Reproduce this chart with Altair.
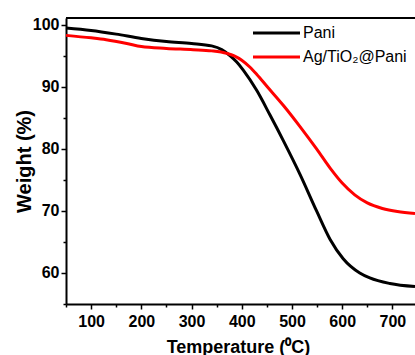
import altair as alt
import pandas as pd

# TGA curves: temperature (°C) vs residual weight (%)
pani_temp = [50, 100, 150, 200, 250, 300, 340, 360, 377, 390, 403, 430, 456, 483,
             516, 549, 576, 602, 635, 655, 695, 745]
pani_weight = [99.5, 99.1, 98.5, 97.8, 97.3, 97.0, 96.6, 96.0, 95.0, 94.0, 92.7, 89.4,
               85.5, 81.3, 75.9, 70.0, 65.4, 62.3, 60.0, 59.2, 58.3, 57.8]

comp_temp = [50, 100, 130, 171, 200, 250, 303, 340, 370, 385, 400, 416, 430, 450,
             483, 516, 549, 576, 600, 625, 650, 680, 710, 745]
comp_weight = [98.3, 97.9, 97.6, 97.0, 96.5, 96.2, 96.0, 95.8, 95.4, 95.0, 94.3, 93.2,
               92.0, 90.1, 87.0, 83.6, 80.0, 76.9, 74.5, 72.6, 71.3, 70.4, 69.9, 69.6]

series_names = ["Pani", "Ag/TiO\u2082@Pani"]
series_colors = ["#000000", "#ff0000"]

x_major = [100, 200, 300, 400, 500, 600, 700]
x_minor = [50, 150, 250, 350, 450, 550, 650]
y_major = [60, 70, 80, 90, 100]
y_minor = [55, 65, 75, 85, 95]

df = pd.concat([
    pd.DataFrame({"T": pani_temp, "W": pani_weight, "s": series_names[0], "o": range(len(pani_temp))}),
    pd.DataFrame({"T": comp_temp, "W": comp_weight, "s": series_names[1], "o": range(len(comp_temp))}),
])

W, H = 349, 286
FONT = "Liberation Sans"
xs = alt.Scale(domain=[50, 745], nice=False, zero=False)
ys = alt.Scale(domain=[55, 101.1], nice=False, zero=False)

lines = alt.Chart(df).mark_line(strokeWidth=3, interpolate="monotone").encode(
    x=alt.X("T:Q", scale=xs, axis=alt.Axis(
        values=x_major, tickSize=5, labelPadding=4, title="Temperature (\u2070C)",
        titleX=172, titleY=48, titleBaseline="alphabetic", titleFontSize=18)),
    y=alt.Y("W:Q", scale=ys, axis=alt.Axis(
        values=y_major, tickSize=5, labelPadding=2, title="Weight (%)",
        titleX=-36, titleY=H / 2, titleAngle=-90, titleBaseline="alphabetic",
        titleFontSize=20)),
    color=alt.Color("s:N", scale=alt.Scale(domain=series_names, range=series_colors), legend=None),
    order="o:Q",
)

minor = alt.Chart(df).mark_point(opacity=0).encode(
    x=alt.X("T:Q", scale=xs, axis=alt.Axis(
        orient="bottom", values=x_minor, tickSize=3, labels=False, domain=False, title=None)),
    y=alt.Y("W:Q", scale=ys, axis=alt.Axis(
        orient="left", values=y_minor, tickSize=3, labels=False, domain=False, title=None)),
)

frame_top = alt.Chart().mark_rule(color="black", strokeWidth=2).encode(
    x=alt.value(0), x2=alt.value(W), y=alt.value(0))

legend_layers = []
for i, (name, col) in enumerate(zip(series_names, series_colors)):
    yy = 15 + 24 * i
    legend_layers.append(alt.Chart().mark_rule(color=col, strokeWidth=3).encode(
        x=alt.value(187), x2=alt.value(234), y=alt.value(yy)))
    legend_layers.append(alt.Chart().mark_text(
        align="left", baseline="middle", font=FONT, fontSize=16, color="black").encode(
        x=alt.value(237), y=alt.value(yy), text=alt.value(name)))

chart = alt.layer(lines, minor, frame_top, *legend_layers).resolve_axis(
    x="independent", y="independent"
).properties(
    width=W, height=H,
    padding={"left": 66, "top": 18, "right": 0, "bottom": 51},
    autosize=alt.AutoSizeParams(type="none"),
    background="white",
).configure_view(stroke=None).configure_axis(
    domainColor="black", domainWidth=2, tickColor="black", tickWidth=1.5,
    labelFont=FONT, labelFontWeight="bold", labelFontSize=16, labelColor="black",
    titleFont=FONT, titleFontWeight="bold", titleColor="black", grid=False,
)

chart.save("out.html", embed_options={"renderer": "svg", "actions": False})
